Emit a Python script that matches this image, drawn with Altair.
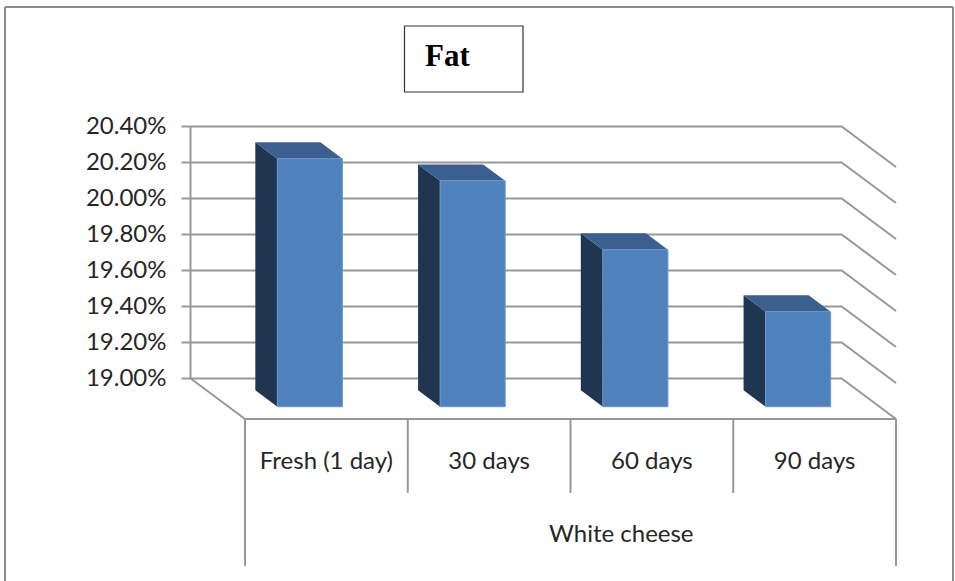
import altair as alt
import pandas as pd

# Fat content of white cheese during storage (percent)
categories = ["Fresh (1 day)", "30 days", "60 days", "90 days"]
fat_values = [20.378, 20.255, 19.872, 19.528]
tick_values = [19.0, 19.2, 19.4, 19.6, 19.8, 20.0, 20.2, 20.4]
group_label = "White cheese"
heading = "Fat"

# Oblique projection: moving from back wall to front edge of the floor
DEPTH_X = 0.338   # in category slots
DEPTH_Y = 0.228   # in percentage points
BAR_X0, BAR_X1 = 0.30, 0.70
BAR_D0, BAR_D1 = 0.30, 0.70
FLOOR = 19.0
AXIS_COLOR = "#989898"
TEXT_COLOR = "#262626"
FONT_SIZE = 24


def px(x, d):
    return x + d * DEPTH_X


def py(v, d):
    return v - d * DEPTH_Y


side_rows, top_rows, front_rows = [], [], []
for i, (cat, v) in enumerate(zip(categories, fat_values)):
    xb = px(i + BAR_X0, BAR_D0)
    xf = px(i + BAR_X0, BAR_D1)
    xbr = px(i + BAR_X1, BAR_D0)
    xfr = px(i + BAR_X1, BAR_D1)
    yb, yf = py(v, BAR_D0), py(v, BAR_D1)
    side_rows += [
        dict(cat=cat, x=xb, y=yb, y2=py(FLOOR, BAR_D0)),
        dict(cat=cat, x=xf, y=yf, y2=py(FLOOR, BAR_D1)),
    ]
    top_rows += [
        dict(cat=cat, x=xb, y=yb, y2=yb),
        dict(cat=cat, x=xf, y=yb, y2=yf),
        dict(cat=cat, x=xbr, y=yb, y2=yf),
        dict(cat=cat, x=xfr, y=yf, y2=yf),
    ]
    front_rows.append(dict(cat=cat, x=xf, x2=xfr, y=yf, y2=py(FLOOR, BAR_D1)))

# Wall-to-floor edges, floor outline and category dividers
seg_rows = []
for s, v in enumerate(tick_values):
    seg_rows += [dict(seg=f"w{s}", n=0, x=4, y=v),
                 dict(seg=f"w{s}", n=1, x=px(4, 1), y=py(v, 1))]
seg_rows += [dict(seg="floor", n=0, x=0, y=FLOOR),
             dict(seg="floor", n=1, x=px(0, 1), y=py(FLOOR, 1)),
             dict(seg="floor", n=2, x=px(4, 1), y=py(FLOOR, 1))]
for i in range(5):
    end = 17.956 if i in (0, 4) else 18.361
    seg_rows += [dict(seg=f"d{i}", n=0, x=px(i, 1), y=py(FLOOR, 1)),
                 dict(seg=f"d{i}", n=1, x=px(i, 1), y=end)]

x_scale = alt.Scale(domain=[0, 4], nice=False, zero=False)
y_scale = alt.Scale(domain=[19, 20.4], nice=False, zero=False)
X = alt.X("x:Q", scale=x_scale, axis=None)
Y = alt.Y(
    "y:Q",
    scale=y_scale,
    axis=alt.Axis(
        values=tick_values,
        labelExpr="format(datum.value, '.2f') + '%'",
        title=None,
        grid=True,
        gridColor=AXIS_COLOR,
        gridWidth=2,
        domainColor=AXIS_COLOR,
        domainWidth=2,
        tickColor=AXIS_COLOR,
        tickWidth=2,
        tickSize=9,
        labelPadding=15,
        labelFont="Lato",
        labelFontSize=FONT_SIZE,
        labelColor=TEXT_COLOR,
    ),
)

guides = (
    alt.Chart(pd.DataFrame(seg_rows))
    .mark_line(color=AXIS_COLOR, strokeWidth=2)
    .encode(x=X, y=Y, detail="seg:N", order="n:Q")
)
side = (
    alt.Chart(pd.DataFrame(side_rows))
    .mark_area(color="#1F3550")
    .encode(x=X, y=Y, y2="y2:Q", detail="cat:N")
)
top = (
    alt.Chart(pd.DataFrame(top_rows))
    .mark_area(color="#3B5F8E")
    .encode(x=X, y=Y, y2="y2:Q", detail="cat:N")
)
front = (
    alt.Chart(pd.DataFrame(front_rows))
    .mark_rect(color="#4F81BD", stroke="#6C97CC", strokeWidth=1)
    .encode(x=X, x2="x2:Q", y=Y, y2="y2:Q")
)

cat_labels = pd.DataFrame(
    [dict(x=px(i + 0.5, 1), y=18.533, t=c) for i, c in enumerate(categories)]
    + [dict(x=2.65, y=18.128, t=group_label)]
)
labels = (
    alt.Chart(cat_labels)
    .mark_text(font="Lato", fontSize=FONT_SIZE, color=TEXT_COLOR, align="center", baseline="middle")
    .encode(x=X, y=Y, text="t:N")
)

# Outer chart frame and the box around the heading, placed relative to the plot area
box_data = pd.DataFrame([dict(label=heading)])
title_box = (
    alt.Chart(box_data)
    .mark_rect(fill="white", stroke="#333333", strokeWidth=1.2)
    .encode(x=alt.value(214.5), x2=alt.value(333), y=alt.value(-100), y2=alt.value(-34))
)
title_text = (
    alt.Chart(box_data)
    .mark_text(font="Liberation Serif", fontSize=31, fontWeight="bold", color="#000000",
               align="left", baseline="alphabetic")
    .encode(x=alt.value(235), y=alt.value(-60), text="label:N")
)
frame_top = (
    alt.Chart(box_data)
    .mark_rule(color="#8C8C8C", strokeWidth=2)
    .encode(x=alt.value(-185), x2=alt.value(763), y=alt.value(-119))
)
frame_left = (
    alt.Chart(box_data)
    .mark_rule(color="#8C8C8C", strokeWidth=2)
    .encode(x=alt.value(-185), y=alt.value(-119), y2=alt.value(455))
)
frame_right = (
    alt.Chart(box_data)
    .mark_rule(color="#8C8C8C", strokeWidth=2)
    .encode(x=alt.value(763), y=alt.value(-119), y2=alt.value(455))
)

chart = (
    alt.layer(frame_top, frame_left, frame_right, title_box, title_text,
              guides, side, top, front, labels)
    .properties(
        width=651,
        height=252,
        autosize=alt.AutoSizeParams(type="none"),
        padding={"left": 190, "top": 126, "right": 114, "bottom": 203},
        background="white",
    )
    .configure_view(stroke=None)
)

chart.save("out.html", embed_options={"renderer": "svg", "actions": False})
